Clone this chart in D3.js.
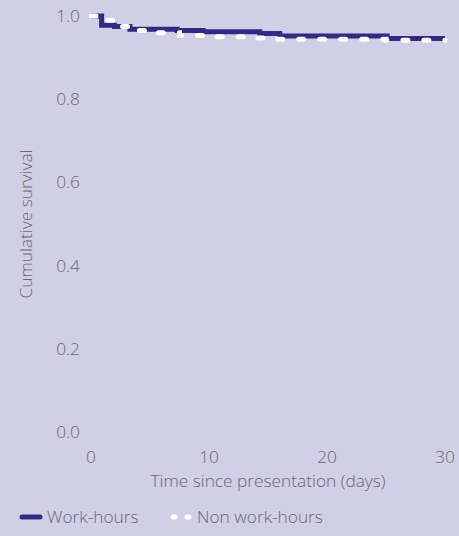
<!DOCTYPE html>
<html><head><meta charset="utf-8">
<script src="https://cdn.jsdelivr.net/npm/d3@7"></script>
<style>
body{margin:0;background:#d1cee7;}
svg{display:block;}
text{font-family:"Open Sans",sans-serif;fill:#6a6a6a;font-weight:300;}
</style></head>
<body><div id="chart"></div>
<script>
const workTimes = [0, 0.9, 2.0, 3.3, 7.3, 9.5, 14.3, 16.0, 25.1, 30];
const workSurv  = [1.0, 0.978, 0.975, 0.968, 0.965, 0.962, 0.958, 0.952, 0.946, 0.946];
const nonTimes  = [0, 0.9, 2.5, 4.0, 5.5, 7.5, 10.0, 13.0, 15.5, 25.0, 30];
const nonSurv   = [1.0, 0.99, 0.975, 0.965, 0.960, 0.953, 0.950, 0.947, 0.944, 0.942, 0.942];
const xTicks = [0, 10, 20, 30];
const yTicks = [0, 0.2, 0.4, 0.6, 0.8, 1.0];
const seriesNames = ["Work-hours", "Non work-hours"];

const W = 459, H = 536;
const FS = 17.3;
const svg = d3.select("#chart").append("svg").attr("width", W).attr("height", H);
const x = d3.scaleLinear().domain([0, 30]).range([91, 445]);
const y = d3.scaleLinear().domain([0, 1]).range([432, 16]);

svg.append("g").selectAll("text").data(yTicks).join("text")
  .attr("x", 80).attr("y", d => y(d)).attr("dy", "0.35em")
  .attr("text-anchor", "end").attr("font-size", FS)
  .text(d => d.toFixed(1));
svg.append("g").selectAll("text").data(xTicks).join("text")
  .attr("x", d => x(d)).attr("y", 457).attr("dy", "0.35em")
  .attr("text-anchor", "middle").attr("font-size", FS)
  .text(d => d);
svg.append("text").attr("x", 268).attr("y", 481).attr("dy", "0.35em")
  .attr("text-anchor", "middle").attr("font-size", FS)
  .text("Time since presentation (days)");
svg.append("text").attr("transform", "translate(26,224) rotate(-90)")
  .attr("dy", "0.35em").attr("text-anchor", "middle").attr("font-size", FS)
  .text("Cumulative survival");

const line = d3.line().x(d => x(d[0])).y(d => y(d[1])).curve(d3.curveStepAfter);
const workData = workTimes.map((t, i) => [t, workSurv[i]]);
const nonData = nonTimes.map((t, i) => [t, nonSurv[i]]);

svg.append("path").datum(workData).attr("d", line)
  .attr("fill", "none").attr("stroke", "#302a82").attr("stroke-width", 5);
svg.append("path").datum(nonData).attr("d", line)
  .attr("fill", "none").attr("stroke", "#ffffff").attr("stroke-width", 5)
  .attr("stroke-linecap", "round").attr("stroke-dasharray", "5 16");

const lg = svg.append("g");
lg.append("line").attr("x1", 22).attr("x2", 40).attr("y1", 517).attr("y2", 517)
  .attr("stroke", "#302a82").attr("stroke-width", 5).attr("stroke-linecap", "round");
lg.append("text").attr("x", 47).attr("y", 517).attr("dy", "0.35em").attr("font-size", FS).text(seriesNames[0]);
lg.append("line").attr("x1", 173).attr("x2", 192).attr("y1", 517).attr("y2", 517)
  .attr("stroke", "#ffffff").attr("stroke-width", 5).attr("stroke-linecap", "round")
  .attr("stroke-dasharray", "2 12");
lg.append("text").attr("x", 197).attr("y", 517).attr("dy", "0.35em").attr("font-size", FS).text(seriesNames[1]);
</script></body></html>
